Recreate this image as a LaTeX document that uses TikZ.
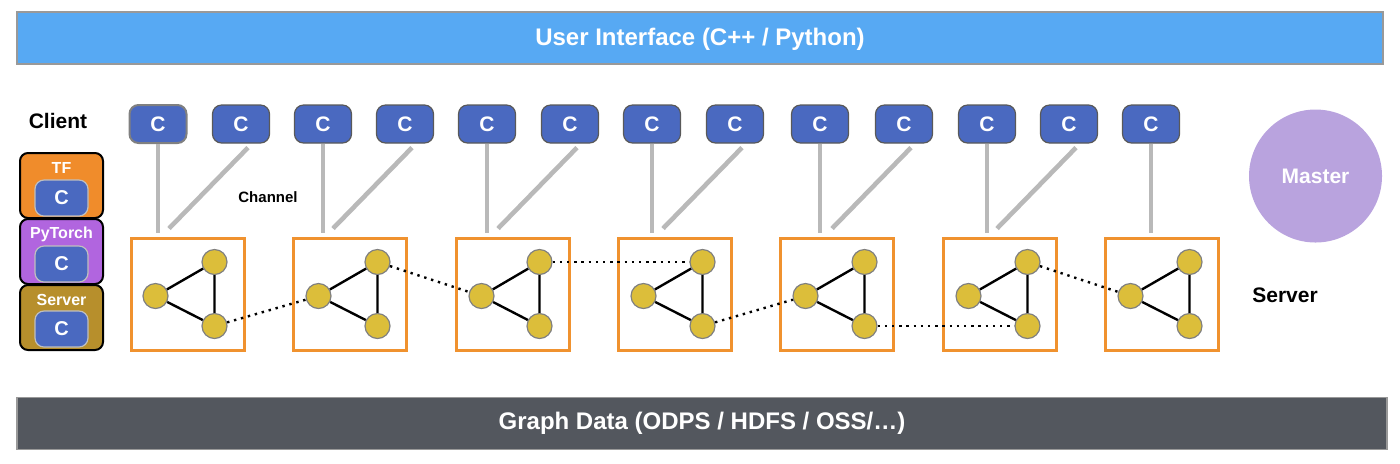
\documentclass[tikz,border=0pt]{standalone}
\usepackage{fontspec}
\setmainfont{Liberation Sans}
\usetikzlibrary{calc}

\definecolor{uiblue}{HTML}{57A9F3}
\definecolor{datagray}{HTML}{53575E}
\definecolor{cblue}{HTML}{4A69C0}
\definecolor{boxorange}{HTML}{F0922F}
\definecolor{nodeyellow}{HTML}{DCBE3A}
\definecolor{masterpurple}{HTML}{B9A3DE}
\definecolor{tforange}{HTML}{F08C2B}
\definecolor{ptpurple}{HTML}{B165DF}
\definecolor{srvgold}{HTML}{B78F2C}

\begin{document}
\begin{tikzpicture}[x=0.5pt,y=-0.5pt,
  bar/.style={draw=gray!80,line width=0.6pt,minimum height=26pt,text=white,font=\bfseries\fontsize{12}{14}\selectfont},
  cnode/.style={rectangle,rounded corners=4.5pt,draw=gray!70!black,line width=0.6pt,fill=cblue,minimum width=28.5pt,minimum height=19pt,text=white,font=\bfseries\fontsize{10.5}{12}\selectfont},
  stackbox/.style={rectangle,rounded corners=4pt,draw=black,line width=1pt,minimum width=41.5pt,minimum height=32.5pt},
  stacklabel/.style={text=white,font=\bfseries\fontsize{8}{9}\selectfont},
  innerc/.style={cnode,minimum width=26.5pt,minimum height=18pt,draw=gray!50,font=\bfseries\fontsize{10}{11}\selectfont},
  serverbox/.style={rectangle,draw=boxorange,line width=1.5pt,minimum width=56.5pt,minimum height=56pt},
  vertex/.style={circle,draw=gray,line width=0.6pt,fill=nodeyellow,minimum size=12.5pt,inner sep=0pt},
  edge/.style={black,line width=1.2pt},
  link/.style={black,line width=1.2pt,dash pattern=on 1.2pt off 2.4pt},
  channel/.style={gray!55,line width=2.3pt},
  label/.style={font=\bfseries\fontsize{10.5}{12}\selectfont}]
  \useasboundingbox (0,0) rectangle (1400,463);

  % bars
  \node[bar,fill=uiblue,minimum width=683pt,text depth=1pt] (ui) at (700,38) {User Interface (C++ / Python)};
  \node[bar,fill=datagray,minimum width=685pt] (data) at (702,423.5) {Graph Data (ODPS / HDFS / OSS/\ldots)};

  % client stack
  \node[label] (client) at (58,121) {Client};
  \node[stackbox,fill=tforange] (tf) at (61.5,185.5) {};
  \node[stackbox,fill=ptpurple] (pt) at (61.5,251.5) {};
  \node[stackbox,fill=srvgold] (sv) at (61.5,317.5) {};
  \node[stacklabel] (tflabel) at (61.5,168) {TF};
  \node[stacklabel] (ptlabel) at (61.5,234) {PyTorch};
  \node[stacklabel] (svlabel) at (61.5,300) {Server};
  \node[innerc] (tfc) at (61.5,198) {C};
  \node[innerc] (ptc) at (61.5,264) {C};
  \node[innerc] (svc) at (61.5,329) {C};

  % clients
  \node[cnode,draw=gray,line width=1pt] (c1) at (158,124) {C};
  \node[cnode] (c2) at (241,124) {C};
  \node[cnode] (c3) at (323,124) {C};
  \node[cnode] (c4) at (405,124) {C};
  \node[cnode] (c5) at (487,124) {C};
  \node[cnode] (c6) at (570,124) {C};
  \node[cnode] (c7) at (652,124) {C};
  \node[cnode] (c8) at (735,124) {C};
  \node[cnode] (c9) at (820,124) {C};
  \node[cnode] (c10) at (904,124) {C};
  \node[cnode] (c11) at (987,124) {C};
  \node[cnode] (c12) at (1069,124) {C};
  \node[cnode] (c13) at (1151,124) {C};

  % servers
  \node[serverbox] (s1) at (187.5,294) {};
  \node[serverbox] (s2) at (349.5,294) {};
  \node[serverbox] (s3) at (512.5,294) {};
  \node[serverbox] (s4) at (674.5,294) {};
  \node[serverbox] (s5) at (836.5,294) {};
  \node[serverbox] (s6) at (999.5,294) {};
  \node[serverbox] (s7) at (1161.5,294) {};

  \node[vertex] (s1a) at (155.5,296) {};
  \node[vertex] (s1b) at (214.5,262) {};
  \node[vertex] (s1c) at (214.5,326) {};
  \node[vertex] (s2a) at (318.5,296) {};
  \node[vertex] (s2b) at (377.5,262) {};
  \node[vertex] (s2c) at (377.5,326) {};
  \node[vertex] (s3a) at (481.5,296) {};
  \node[vertex] (s3b) at (539.5,262) {};
  \node[vertex] (s3c) at (539.5,326) {};
  \node[vertex] (s4a) at (643.5,296) {};
  \node[vertex] (s4b) at (702.5,262) {};
  \node[vertex] (s4c) at (702.5,326) {};
  \node[vertex] (s5a) at (805.5,296) {};
  \node[vertex] (s5b) at (864.5,262) {};
  \node[vertex] (s5c) at (864.5,326) {};
  \node[vertex] (s6a) at (968.5,296) {};
  \node[vertex] (s6b) at (1027.5,262) {};
  \node[vertex] (s6c) at (1027.5,326) {};
  \node[vertex] (s7a) at (1130.5,296) {};
  \node[vertex] (s7b) at (1189.5,262) {};
  \node[vertex] (s7c) at (1189.5,326) {};

  \draw[edge] (s1a) -- (s1b) -- (s1c) -- (s1a);
  \draw[edge] (s2a) -- (s2b) -- (s2c) -- (s2a);
  \draw[edge] (s3a) -- (s3b) -- (s3c) -- (s3a);
  \draw[edge] (s4a) -- (s4b) -- (s4c) -- (s4a);
  \draw[edge] (s5a) -- (s5b) -- (s5c) -- (s5a);
  \draw[edge] (s6a) -- (s6b) -- (s6c) -- (s6a);
  \draw[edge] (s7a) -- (s7b) -- (s7c) -- (s7a);

  % links between servers
  \draw[link] (s1c) -- (s2a);
  \draw[link] (s2b) -- (s3a);
  \draw[link] (s3b) -- (s4b);
  \draw[link] (s4c) -- (s5a);
  \draw[link] (s5c) -- (s6c);
  \draw[link] (s6b) -- (s7a);

  % channels
  \draw[channel] (c1.south) -- ([yshift=2pt]c1.south |- s1.north);
  \draw[channel] ([xshift=3.5pt,yshift=-2pt]c2.south) -- ([xshift=-36pt,yshift=4pt]c2.south |- s1.north);
  \draw[channel] (c3.south) -- ([yshift=2pt]c3.south |- s2.north);
  \draw[channel] ([xshift=3.5pt,yshift=-2pt]c4.south) -- ([xshift=-36pt,yshift=4pt]c4.south |- s2.north);
  \draw[channel] (c5.south) -- ([yshift=2pt]c5.south |- s3.north);
  \draw[channel] ([xshift=3.5pt,yshift=-2pt]c6.south) -- ([xshift=-36pt,yshift=4pt]c6.south |- s3.north);
  \draw[channel] (c7.south) -- ([yshift=2pt]c7.south |- s4.north);
  \draw[channel] ([xshift=3.5pt,yshift=-2pt]c8.south) -- ([xshift=-36pt,yshift=4pt]c8.south |- s4.north);
  \draw[channel] (c9.south) -- ([yshift=2pt]c9.south |- s5.north);
  \draw[channel] ([xshift=3.5pt,yshift=-2pt]c10.south) -- ([xshift=-36pt,yshift=4pt]c10.south |- s5.north);
  \draw[channel] (c11.south) -- ([yshift=2pt]c11.south |- s6.north);
  \draw[channel] ([xshift=3.5pt,yshift=-2pt]c12.south) -- ([xshift=-36pt,yshift=4pt]c12.south |- s6.north);
  \draw[channel] (c13.south) -- ([yshift=2pt]c13.south |- s7.north);
  \node[font=\bfseries\fontsize{7.5}{9}\selectfont] (chan) at (268,197) {Channel};

  % master and server label
  \node[circle,fill=masterpurple,minimum size=66.5pt,text=white,label,inner sep=0pt] (master) at (1315.5,176) {Master};
  \node[label] (serverlabel) at (1285,295) {Server};
\end{tikzpicture}
\end{document}
